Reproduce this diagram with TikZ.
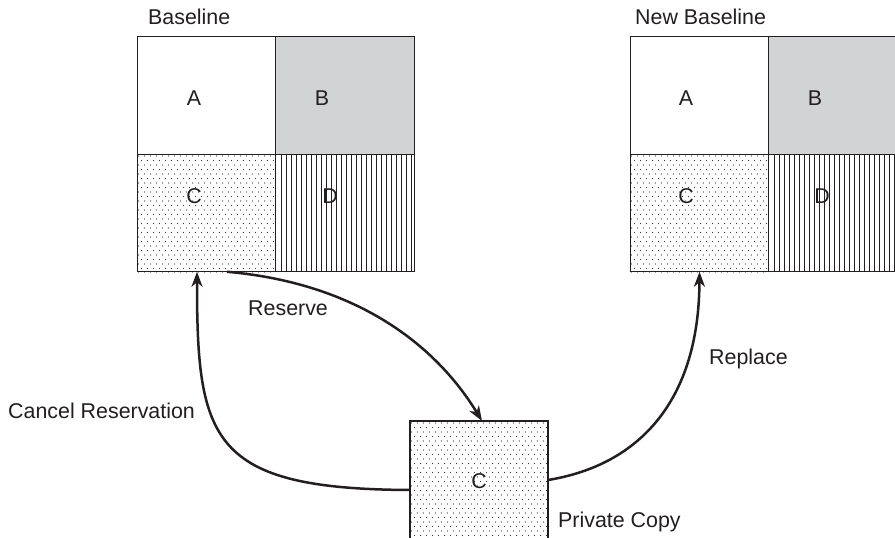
\documentclass[tikz,border=0pt]{standalone}
\usepackage{fontspec}
\setmainfont{Liberation Sans}
\usetikzlibrary{arrows.meta}
\definecolor{ink}{RGB}{35,31,32}
\definecolor{bgray}{RGB}{210,211,213}
\definecolor{dotcol}{RGB}{60,60,62}
\newcommand\mydotarea[4]{%
  \begin{scope}
    \clip (#1,#2) rectangle (#3,#4);
    \foreach \i in {0,...,23}{
      \foreach \j in {0,...,15}{
        \fill[dotcol] ({#1+1.5+6*\i},{#2+2+9*\j}) circle (0.7pt);
        \fill[dotcol] ({#1+4.5+6*\i},{#2+6.5+9*\j}) circle (0.7pt);
      }
    }
  \end{scope}}
\newcommand\myvlines[4]{%
  \begin{scope}
    \clip (#1,#2) rectangle (#3,#4);
    \foreach \k in {1,...,27}{
      \draw[ink,line width=1pt] ({#1+5*\k},#2) -- ({#1+5*\k},#4);
    }
  \end{scope}}
\begin{document}
\begin{tikzpicture}[x=1pt,y=-1pt,
  cell/.style={draw=ink,line width=1.3pt,minimum width=138.5pt,minimum height=117.5pt,inner sep=0pt,outer sep=0pt},
  pbox/.style={draw=ink,line width=1.3pt,minimum width=138pt,minimum height=138pt,inner sep=0pt,outer sep=0pt},
  lbl/.style={font=\fontsize{21.4}{25}\selectfont,text=ink,inner sep=0pt},
  conn/.style={draw=ink,line width=2.5pt,-{Stealth[length=15pt,width=11pt,inset=4.5pt]}}]
\clip (0,0) rectangle (895,538);
\fill[white] (0,0) rectangle (895,538);
% fills and patterns
\fill[bgray] (276,37) rectangle (414,154);
\fill[bgray] (769,37) rectangle (907,154);
\mydotarea{137}{154}{276}{272}
\mydotarea{630}{154}{769}{272}
\mydotarea{410}{421}{548}{559}
\myvlines{276}{154}{414}{272}
\myvlines{769}{154}{907}{272}
% cells
\node[cell] (lA) at (206.5,95.5) {};
\node[cell] (lB) at (345,95.5) {};
\node[cell] (lC) at (206.5,213) {};
\node[cell] (lD) at (345,213) {};
\node[cell] (rA) at (699.5,95.5) {};
\node[cell] (rB) at (838,95.5) {};
\node[cell] (rC) at (699.5,213) {};
\node[cell] (rD) at (838,213) {};
\node[pbox] (priv) at (479,490) {};
% cell letters
\node[lbl] (tlA) at (194,98) {A};
\node[lbl] (tlB) at (322,98) {B};
\node[lbl] (tlC) at (194,196) {C};
\node[lbl] (tlD) at (330,196) {D};
\node[lbl] (trA) at (686,98) {A};
\node[lbl] (trB) at (815,98) {B};
\node[lbl] (trC) at (686,196) {C};
\node[lbl] (trD) at (822,196) {D};
\node[lbl] (tpC) at (479,481) {C};
% titles and labels
\node[lbl,anchor=base west] (tBase) at (148,24) {Baseline};
\node[lbl,anchor=base west] (tNew) at (635,24) {New Baseline};
\node[lbl,anchor=base west] (tRes) at (248,315) {Reserve};
\node[lbl,anchor=base west] (tRep) at (709,364) {Replace};
\node[lbl,anchor=base west] (tCan) at (8,418) {Cancel Reservation};
\node[lbl,anchor=base west] (tPriv) at (558,527) {Private Copy};
% connectors
\draw[conn] ([xshift=20.5pt]lC.south) .. controls (365,284) and (440,352) .. ([xshift=3pt]priv.north);
\draw[conn] (priv.west) .. controls (210,489) and (197,440) .. ([xshift=-9.5pt]lC.south);
\draw[conn] ([yshift=10pt]priv.east) .. controls (640,465) and (699,400) .. (rC.south);
\end{tikzpicture}
\end{document}
